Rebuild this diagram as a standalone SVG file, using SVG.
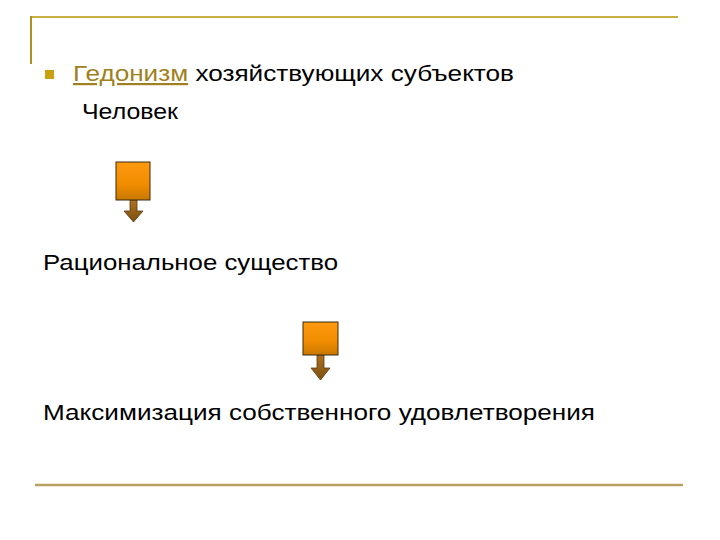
<svg xmlns="http://www.w3.org/2000/svg" width="720" height="540" viewBox="0 0 720 540">
<defs>
<linearGradient id="box" x1="0" y1="0" x2="0" y2="1">
<stop offset="0" stop-color="#ff9a10"/>
<stop offset="0.6" stop-color="#f08c00"/>
<stop offset="1" stop-color="#c87800"/>
</linearGradient>
<linearGradient id="arr" x1="0" y1="0" x2="0" y2="1">
<stop offset="0" stop-color="#b07020"/>
<stop offset="1" stop-color="#7a5010"/>
</linearGradient>
</defs>
<style>
.t{font-family:"Liberation Sans",Arial,sans-serif;font-size:22px;fill:#000}
.box{fill:url(#box);stroke:#3a2a10;stroke-width:1}
.arr{fill:url(#arr);stroke:#5a3a10;stroke-width:0.8}
</style>
<rect width="720" height="540" fill="#fff"/>
<g id="frame">
<line x1="30" y1="17" x2="678" y2="17" stroke="#c8b040" stroke-width="2"/>
<line x1="31" y1="16" x2="31" y2="64" stroke="#b09020" stroke-width="2"/>
<line x1="35" y1="485" x2="683" y2="485" stroke="#b8a060" stroke-width="2.5"/>
</g>
<g id="title">
<rect x="45" y="70" width="9" height="9" fill="#c8a010"/>
<text class="t" x="73" y="81" textLength="441" lengthAdjust="spacingAndGlyphs"><tspan fill="#a08020" text-decoration="underline">Гедонизм</tspan> хозяйствующих субъектов</text>
<text class="t" x="82" y="119" textLength="96" lengthAdjust="spacingAndGlyphs">Человек</text>
</g>
<g id="n1"><text class="t" x="43" y="270" textLength="295" lengthAdjust="spacingAndGlyphs">Рациональное существо</text></g>
<g id="n2"><text class="t" x="43" y="420" textLength="552" lengthAdjust="spacingAndGlyphs">Максимизация собственного удовлетворения</text></g>
<g id="connectors">
<g id="a1">
<polygon class="arr" points="130,200 137,200 137,211 143,211 133.5,222 124,211 130,211"/>
<rect class="box" x="116" y="162" width="34" height="38"/>
</g>
<g id="a2">
<polygon class="arr" points="317,355 324,355 324,368 330,368 320.5,380 311,368 317,368"/>
<rect class="box" x="303" y="322" width="35" height="33"/>
</g>
</g>
</svg>
